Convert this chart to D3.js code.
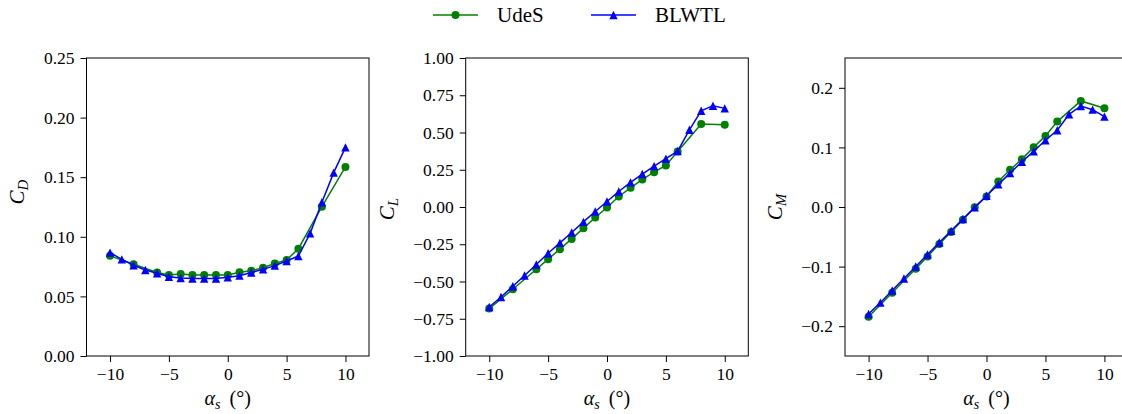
<!DOCTYPE html>
<html>
<head>
<meta charset="utf-8">
<script src="https://cdn.jsdelivr.net/npm/d3@7"></script>
<style>
  html, body { margin: 0; padding: 0; background: #fff; }
  svg { display: block; }
</style>
</head>
<body>
<svg id="chart" width="1122" height="414"></svg>
<script>
// Angles of attack (deg) for each data set
const alphaUdeS = [-10, -8, -6, -5, -4, -3, -2, -1, 0, 1, 2, 3, 4, 5, 6, 8, 10];
const alphaBLWTL = [-10, -9, -8, -7, -6, -5, -4, -3, -2, -1, 0, 1, 2, 3, 4, 5, 6, 7, 8, 9, 10];

// Drag coefficient
const cdUdeS = [0.084, 0.077, 0.070, 0.068, 0.0688, 0.068, 0.068, 0.068, 0.068, 0.0702, 0.0716, 0.074, 0.0777, 0.0805, 0.090, 0.1253, 0.1586];
const cdBLWTL = [0.0867, 0.0811, 0.0761, 0.0721, 0.0694, 0.0665, 0.0654, 0.065, 0.065, 0.065, 0.066, 0.0674, 0.070, 0.0727, 0.0758, 0.0797, 0.0839, 0.1029, 0.129, 0.1538, 0.175];

// Lift coefficient
const clUdeS = [-0.682, -0.552, -0.418, -0.350, -0.283, -0.214, -0.142, -0.0705, -0.003, 0.0705, 0.129, 0.185, 0.234, 0.279, 0.373, 0.557, 0.552];
const clBLWTL = [-0.671, -0.604, -0.532, -0.460, -0.386, -0.310, -0.241, -0.171, -0.0997, -0.030, 0.037, 0.104, 0.165, 0.221, 0.274, 0.324, 0.375, 0.518, 0.646, 0.680, 0.662];

// Moment coefficient
const cmUdeS = [-0.184, -0.1438, -0.1037, -0.083, -0.0619, -0.0418, -0.0212, -0.0006, 0.0178, 0.0429, 0.0624, 0.0803, 0.1003, 0.1193, 0.1433, 0.178, 0.1656];
const cmBLWTL = [-0.1795, -0.1605, -0.140, -0.120, -0.0998, -0.0797, -0.0596, -0.0401, -0.0201, -0.0006, 0.019, 0.0379, 0.0569, 0.0758, 0.0936, 0.112, 0.1288, 0.1555, 0.1695, 0.1633, 0.1516];

// Tick values
const xTicks = [-10, -5, 0, 5, 10];
const cdTicks = [0, 0.05, 0.10, 0.15, 0.20, 0.25];
const clTicks = [-1, -0.75, -0.5, -0.25, 0, 0.25, 0.5, 0.75, 1];
const cmTicks = [-0.2, -0.1, 0, 0.1, 0.2];

const seriesNames = ["UdeS", "BLWTL"];
const seriesColors = ["#008000", "#0000ff"];

const FONT = "'Liberation Serif', 'Times New Roman', 'DejaVu Serif', serif";
const svg = d3.select("#chart").attr("font-family", FONT);
const plotTop = 58, plotBottom = 356;
const tickSize = 17.5;
const minus = s => s.replace("-", "\u2212");

const panels = [
  { left: 86.5, right: 369, domain: [0, 0.25], ticks: cdTicks, fmt: d3.format(".2f"),
    sub: "D", ud: cdUdeS, bl: cdBLWTL, labelX: 24, labelY: 192 },
  { left: 465.7, right: 748.3, domain: [-1, 1], ticks: clTicks, fmt: d3.format(".2f"),
    sub: "L", ud: clUdeS, bl: clBLWTL, labelX: 394, labelY: 209 },
  { left: 845, right: 1128, domain: [-0.25, 0.25], ticks: cmTicks, fmt: d3.format(".1f"),
    sub: "M", ud: cmUdeS, bl: cmBLWTL, labelX: 782, labelY: 207 }
];

function trianglePath(h) {
  return `M0,${-h}L${-h},${h}L${h},${h}Z`;
}

function drawMarkers(g, pts, kind, color) {
  if (kind === "circle") {
    g.selectAll(null).data(pts).join("circle")
      .attr("cx", d => d[0]).attr("cy", d => d[1]).attr("r", 4)
      .attr("fill", color);
  } else {
    g.selectAll(null).data(pts).join("path")
      .attr("transform", d => `translate(${d[0]},${d[1]})`)
      .attr("d", trianglePath(4.2))
      .attr("fill", color);
  }
}

panels.forEach(p => {
  const x = d3.scaleLinear().domain([-12, 12]).range([p.left, p.right]);
  const y = d3.scaleLinear().domain(p.domain).range([plotBottom, plotTop]);
  const g = svg.append("g");

  // series
  const sets = [
    { a: alphaUdeS, v: p.ud, kind: "circle", color: seriesColors[0] },
    { a: alphaBLWTL, v: p.bl, kind: "triangle", color: seriesColors[1] }
  ];
  const line = d3.line();
  sets.forEach(s => {
    const pts = s.a.map((a, i) => [x(a), y(s.v[i])]);
    g.append("path").attr("d", line(pts)).attr("fill", "none")
      .attr("stroke", s.color).attr("stroke-width", 1.5);
    drawMarkers(g, pts, s.kind, s.color);
  });

  // frame
  g.append("rect").attr("x", p.left).attr("y", plotTop)
    .attr("width", p.right - p.left).attr("height", plotBottom - plotTop)
    .attr("fill", "none").attr("stroke", "#000").attr("stroke-width", 1);

  // axes
  const xAxis = d3.axisBottom(x).tickValues(xTicks).tickSize(6).tickPadding(6)
    .tickFormat(d => minus(String(d)));
  const xg = g.append("g").attr("transform", `translate(0,${plotBottom})`).call(xAxis);
  const yAxis = d3.axisLeft(y).tickValues(p.ticks).tickSize(6).tickPadding(6)
    .tickFormat(d => minus(p.fmt(d)));
  const yg = g.append("g").attr("transform", `translate(${p.left},0)`).call(yAxis);
  [xg, yg].forEach(ax => {
    ax.attr("font-family", FONT).attr("font-size", tickSize);
    ax.select(".domain").remove();
    ax.selectAll("text").attr("fill", "#000");
    ax.selectAll("line").attr("stroke", "#000");
  });

  // x label
  const xl = g.append("text").attr("x", (p.left + p.right) / 2).attr("y", 405)
    .attr("text-anchor", "middle").attr("font-size", 20);
  xl.append("tspan").attr("font-style", "italic").text("α");
  xl.append("tspan").attr("font-style", "italic").attr("font-size", 14).attr("dy", 4).text("s");
  xl.append("tspan").attr("dy", -4).text("\u2009 (°)");

  // y label
  const yl = g.append("text")
    .attr("transform", `translate(${p.labelX},${p.labelY}) rotate(-90)`)
    .attr("text-anchor", "middle").attr("font-size", 21);
  yl.append("tspan").attr("font-style", "italic").text("C");
  yl.append("tspan").attr("font-style", "italic").attr("font-size", 15).attr("dy", 4).text(p.sub);
});

// legend
const legend = svg.append("g");
const legendItems = [
  { x0: 433, name: seriesNames[0], color: seriesColors[0], kind: "circle" },
  { x0: 591, name: seriesNames[1], color: seriesColors[1], kind: "triangle" }
];
legendItems.forEach(it => {
  legend.append("line").attr("x1", it.x0).attr("x2", it.x0 + 45)
    .attr("y1", 15).attr("y2", 15).attr("stroke", it.color).attr("stroke-width", 1.5);
  drawMarkers(legend, [[it.x0 + 22.5, 15]], it.kind, it.color);
  legend.append("text").attr("x", it.x0 + 64).attr("y", 22)
    .attr("font-size", 21).text(it.name);
});
</script>
</body>
</html>
